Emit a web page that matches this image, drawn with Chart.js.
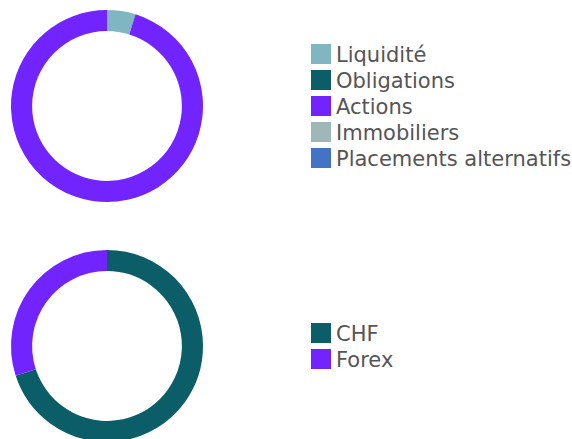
<!DOCTYPE html>
<html lang="fr">
<head>
  <meta charset="UTF-8" />
  <title>Répartition</title>
  <script src="https://cdn.jsdelivr.net/npm/chart.js"></script>
  <style>
    body { margin: 0; background: #fff; font-family: "DejaVu Sans", Verdana, sans-serif; }
    .bloc { position: absolute; left: 0; width: 572px; height: 212px; }
    .bloc .graph { position: absolute; left: 0; top: 0; width: 214px; height: 212px; }
    .legende { position: absolute; left: 311px; margin: 0; padding: 0; list-style: none; }
    .legende li { height: 26px; display: flex; align-items: center; white-space: nowrap; }
    .legende .case { width: 20px; height: 20px; margin-right: 5px; }
    .legende .txt { font-size: 21px; line-height: 26px; color: #555; position: relative; top: 1px; }
  </style>
</head>
<body>
  <div class="bloc" style="top:0">
    <div class="graph"><canvas id="classes"></canvas></div>
    <ul class="legende" id="leg-classes"></ul>
  </div>
  <div class="bloc" style="top:240px">
    <div class="graph"><canvas id="devises"></canvas></div>
    <ul class="legende" id="leg-devises"></ul>
  </div>

  <script>
    const classesLabels = ['Liquidité', 'Obligations', 'Actions', 'Immobiliers', 'Placements alternatifs'];
    const classesValeurs = [4.8, 0, 95.2, 0, 0];
    const classesCouleurs = ['#80b6c1', '#0b5e67', '#7224ff', '#9fb7b9', '#4473c6'];

    const devisesLabels = ['CHF', 'Forex'];
    const devisesValeurs = [70, 30];
    const devisesCouleurs = ['#0b5e67', '#7224ff'];

    // legende html a partir des items de Chart.js
    const legendeHtml = {
      id: 'legendeHtml',
      afterUpdate(chart, args, opts) {
        const ul = document.getElementById(opts.conteneur);
        ul.innerHTML = '';
        const items = chart.options.plugins.legend.labels.generateLabels(chart);
        items.forEach(item => {
          const li = document.createElement('li');
          const c = document.createElement('span');
          c.className = 'case';
          c.style.background = item.fillStyle;
          const t = document.createElement('span');
          t.className = 'txt';
          t.textContent = item.text;
          li.appendChild(c);
          li.appendChild(t);
          ul.appendChild(li);
        });
        ul.style.top = (106 - items.length * 13) + 'px';
      }
    };

    function creerDonut(id, labels, valeurs, couleurs, legende) {
      return new Chart(document.getElementById(id), {
        type: 'doughnut',
        data: {
          labels: labels,
          datasets: [{
            data: valeurs,
            backgroundColor: couleurs,
            borderWidth: 0
          }]
        },
        options: {
          responsive: true,
          maintainAspectRatio: false,
          animation: false,
          cutout: '78%',
          layout: { padding: 10 },
          plugins: {
            legend: { display: false },
            tooltip: { enabled: false },
            legendeHtml: { conteneur: legende }
          }
        },
        plugins: [legendeHtml]
      });
    }

    creerDonut('classes', classesLabels, classesValeurs, classesCouleurs, 'leg-classes');
    creerDonut('devises', devisesLabels, devisesValeurs, devisesCouleurs, 'leg-devises');
  </script>
</body>
</html>
